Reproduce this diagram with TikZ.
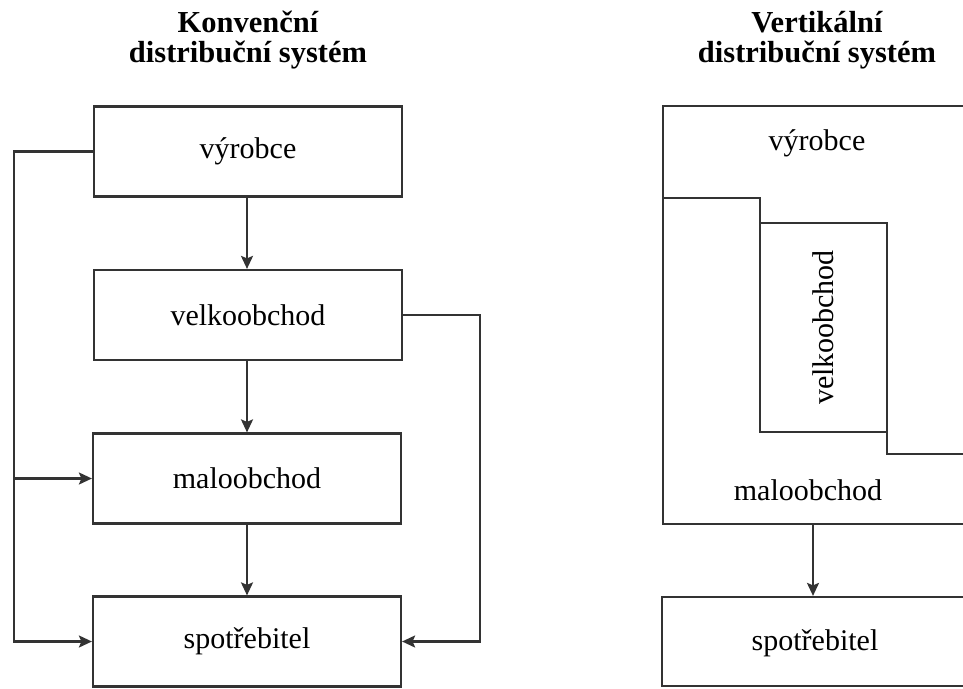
\documentclass[tikz,border=0pt]{standalone}
\usepackage{fontspec}
\setmainfont{Liberation Serif}
\usetikzlibrary{arrows.meta}
\begin{document}
\begin{tikzpicture}[x=1pt,y=-1pt,
  line width=2.2pt, draw=black!80,
  boxnode/.style={draw, rectangle, minimum width=308pt, minimum height=90pt, inner sep=0pt,
    font=\fontsize{30}{34}\selectfont},
  txt/.style={inner sep=0pt, font=\fontsize{30}{34}\selectfont},
  ttl/.style={inner sep=0pt, anchor=base, font=\bfseries\fontsize{30.5}{32}\selectfont},
  arr/.style={-{Stealth[length=13pt,width=12pt,inset=2.5pt]}}]
\useasboundingbox (0,0) rectangle (963,688);
\clip (0,0) rectangle (963,688);
% titles
\node[ttl] (t1a) at (248,32) {Konvenční};
\node[ttl] (t1b) at (248,62) {distribuční systém};
\node[ttl] (t2a) at (817,32) {Vertikální};
\node[ttl] (t2b) at (817,62) {distribuční systém};
% left column
\node[boxnode] (v) at (248,151.5) {výrobce};
\node[boxnode] (vo) at (248,315) {velkoobchod};
\node[boxnode] (mo) at (247,478.5) {maloobchod};
\node[boxnode] (sp) at (247,641.5) {spotřebitel};
\draw[arr] (v.south -| 247,0) -- (vo.north -| 247,0);
\draw[arr] (vo.south -| 247,0) -- (mo.north -| 247,0);
\draw[arr] (mo.south -| 247,0) -- (sp.north -| 247,0);
\coordinate (lx) at (14,0);
\coordinate (rx) at (480,0);
\draw[arr] (v.west) -- (v.west -| lx) -- (sp.west -| lx) -- (sp.west);
\draw[arr] (mo.west -| lx) -- (mo.west);
\draw[arr] (vo.east) -- (vo.east -| rx) -- (sp.east -| rx) -- (sp.east);
% right column
\draw (980,106) -- (663,106) -- (663,524) -- (980,524);
\draw (663,198) -- (760,198) -- (760,223);
\node[draw, rectangle, inner sep=0pt, outer sep=0pt, minimum width=127pt, minimum height=209pt,
  font=\fontsize{30}{34}\selectfont] (vo2) at (823.5,327.5) {\rotatebox{90}{velkoobchod}};
\draw (vo2.south east) -- (vo2.south east |- 0,454) -- (980,454);
\node[txt] (v2) at (817,143) {výrobce};
\node[txt] (mo2) at (808,490) {maloobchod};
\node[draw, rectangle, inner sep=0pt, minimum width=318pt, minimum height=89pt,
  text width=0pt] (sp2) at (821,641.5) {};
\node[txt] (sp2t) at (815,643) {spotřebitel};
\coordinate (m2) at (813,524);
\draw[arr] (m2) -- (m2 |- sp2.north);
\end{tikzpicture}
\end{document}
